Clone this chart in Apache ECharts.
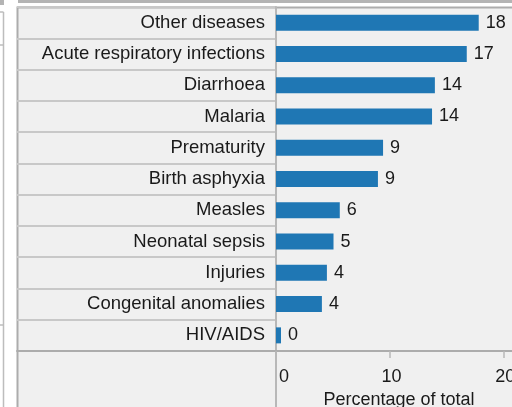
<!DOCTYPE html>
<html>
<head>
<meta charset="utf-8">
<script src="https://cdn.jsdelivr.net/npm/echarts@6/dist/echarts.min.js"></script>
<style>
  html, body { margin: 0; padding: 0; background: #fff; }
  #chart { width: 512px; height: 407px; }
</style>
</head>
<body>
<div id="chart"></div>
<script>
const categories = [
  'Other diseases', 'Acute respiratory infections', 'Diarrhoea', 'Malaria',
  'Prematurity', 'Birth asphyxia', 'Measles', 'Neonatal sepsis',
  'Injuries', 'Congenital anomalies', 'HIV/AIDS'
]
const shares = [17.8, 16.75, 13.95, 13.7, 9.4, 8.95, 5.6, 5.05, 4.47, 4.03, 0.44]
const tickLabels = [0, 10, 20]

const font = "'Liberation Sans', Arial, sans-serif"
const textColor = '#1a1a1a'
const lineDark = '#acacac'
const lineLight = '#c8c8c8'

const chart = echarts.init(document.getElementById('chart'))

chart.setOption({
  backgroundColor: '#ffffff',
  animation: false,
  textStyle: { fontFamily: font },
  graphic: [
    // panel background and frame
    { type: 'rect', z: -1, shape: { x: 17.5, y: 7.5, width: 520, height: 420 },
      style: { fill: '#f0f0f0', stroke: lineDark, lineWidth: 2 } },
    { type: 'rect', z: -1, shape: { x: 18, y: 0, width: 494, height: 3 },
      style: { fill: '#b4b4b4' } },
    // remains of the neighbouring panel on the left
    { type: 'rect', z: -1, shape: { x: 0, y: 0, width: 4, height: 5 },
      style: { fill: '#b4b4b4' } },
    { type: 'line', z: -1, shape: { x1: 3.5, y1: 12, x2: 3.5, y2: 407 },
      style: { stroke: '#bdbdbd', lineWidth: 1.5 } },
    { type: 'line', z: -1, shape: { x1: 0, y1: 12, x2: 3.5, y2: 12 },
      style: { stroke: '#bdbdbd', lineWidth: 1.5 } },
    { type: 'line', z: -1, shape: { x1: 0, y1: 45, x2: 3.5, y2: 45 },
      style: { stroke: '#bdbdbd', lineWidth: 1.5 } },
    { type: 'line', z: -1, shape: { x1: 0, y1: 325, x2: 3.5, y2: 325 },
      style: { stroke: '#bdbdbd', lineWidth: 1.5 } },
    // header column divider continued through the axis area
    { type: 'line', shape: { x1: 276, y1: 351, x2: 276, y2: 407 },
      style: { stroke: '#b8b8b8', lineWidth: 2 } }
  ],
  grid: [
    { left: 276, top: 7, width: 246, height: 344, outerBoundsMode: 'none', containLabel: false },
    { left: 17, top: 7, width: 259, height: 344, outerBoundsMode: 'none', containLabel: false }
  ],
  xAxis: [
    {
      gridIndex: 0,
      type: 'value',
      min: 0,
      max: 21.6,
      interval: 10,
      name: 'Percentage of total',
      nameLocation: 'middle',
      nameGap: 38,
      nameTextStyle: { fontSize: 18, color: textColor, fontFamily: font },
      axisLine: { show: true, lineStyle: { color: lineDark, width: 2 } },
      axisTick: { show: true, length: 7, lineStyle: { color: '#b8b8b8', width: 1.5 } },
      axisLabel: {
        fontSize: 18, color: textColor, fontFamily: font, margin: 17,
        alignMinLabel: 'left',
        padding: [0, 0, 0, 3],
        formatter: v => (tickLabels.includes(v) ? String(v) : '')
      },
      splitLine: { show: false }
    },
    {
      gridIndex: 1,
      type: 'value',
      axisLine: { show: true, lineStyle: { color: lineDark, width: 2 } },
      axisTick: { show: false },
      axisLabel: { show: false },
      splitLine: { show: false }
    }
  ],
  yAxis: [
    {
      gridIndex: 0,
      type: 'category',
      inverse: true,
      data: categories,
      axisLine: { show: true, lineStyle: { color: '#b8b8b8', width: 2 } },
      axisTick: { show: false },
      axisLabel: { fontSize: 18.5, color: textColor, fontFamily: font, margin: 11 },
      splitLine: { show: false }
    },
    {
      gridIndex: 1,
      type: 'category',
      inverse: true,
      data: categories,
      axisLine: { show: false },
      axisTick: { show: false },
      axisLabel: { show: false },
      splitLine: { show: true, lineStyle: { color: lineLight, width: 2 } }
    }
  ],
  series: [
    {
      type: 'bar',
      xAxisIndex: 0,
      yAxisIndex: 0,
      data: shares,
      barWidth: 16,
      itemStyle: { color: '#1f77b4' },
      label: {
        show: true,
        position: 'right',
        distance: 7,
        fontSize: 18,
        color: textColor,
        fontFamily: font,
        formatter: p => Math.round(p.value)
      }
    }
  ]
})
</script>
</body>
</html>
